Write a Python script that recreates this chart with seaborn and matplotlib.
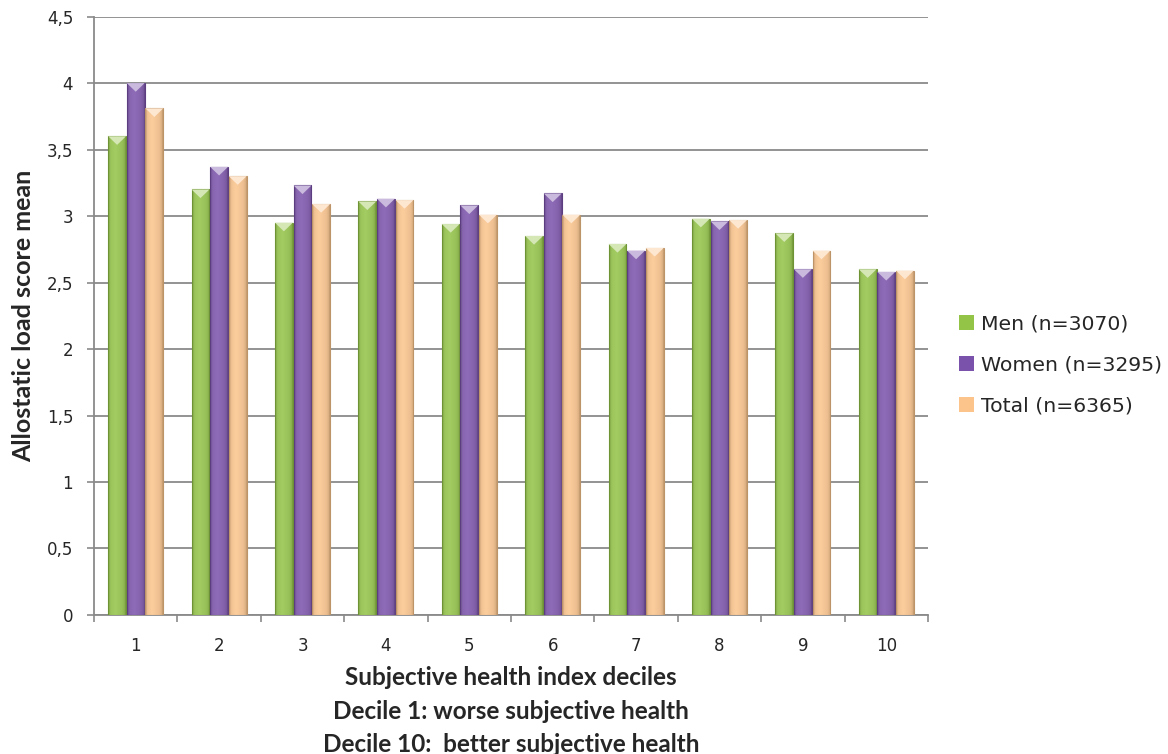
import numpy as np
import pandas as pd
import matplotlib
matplotlib.use("Agg")
import matplotlib.pyplot as plt
import matplotlib.colors as mcolors
from matplotlib.patches import Patch, Polygon
from matplotlib.ticker import FixedLocator, NullFormatter
import seaborn as sns

# Mean allostatic load score by subjective health index decile
deciles = ["1", "2", "3", "4", "5", "6", "7", "8", "9", "10"]
men = [3.60, 3.20, 2.95, 3.11, 2.94, 2.85, 2.79, 2.98, 2.87, 2.60]
women = [4.00, 3.37, 3.23, 3.13, 3.08, 3.17, 2.74, 2.96, 2.60, 2.58]
total = [3.81, 3.30, 3.09, 3.12, 3.01, 3.01, 2.76, 2.97, 2.74, 2.59]
groups = ["Men (n=3070)", "Women (n=3295)", "Total (n=6365)"]
colors = ["#93c447", "#7b52ab", "#fcc48b"]
ytick_values = [0, 0.5, 1, 1.5, 2, 2.5, 3, 3.5, 4, 4.5]
ytick_labels = ["0", "0,5", "1", "1,5", "2", "2,5", "3", "3,5", "4", "4,5"]

df = pd.DataFrame({
    "decile": deciles * 3,
    "group": [g for g in groups for _ in deciles],
    "value": men + women + total,
})

sns.set_theme(style="white")
plt.rcParams["font.family"] = ["DejaVu Sans"]

fig = plt.figure(figsize=(11.68, 7.54), dpi=100)
ax = fig.add_axes([0.0805, 0.1844, 0.714, 0.7936])

sns.barplot(data=df, x="decile", y="value", hue="group", order=deciles,
            hue_order=groups, palette=colors, saturation=1, width=0.67,
            gap=0.04, legend=False, ax=ax, zorder=3, edgecolor="none")

ax.set_ylim(0, 4.5)
ax.set_xlim(-0.5, len(deciles) - 0.5)

# cylinder-like horizontal shading, thin darker outline and a bevelled top
for patch in list(ax.patches):
    x0, y0 = patch.get_x(), patch.get_y()
    w, h = patch.get_width(), patch.get_height()
    base = np.array(mcolors.to_rgb(patch.get_facecolor()))
    dark = base * 0.72
    light = np.clip(base + (1 - base) * 0.15, 0, 1)
    t = np.linspace(0, 1, 64)
    prof = np.interp(t, [0, 0.06, 0.14, 0.4, 0.8, 0.94, 1],
                     [0.0, 0.55, 0.85, 1.0, 0.8, 0.55, 0.1])
    cols = np.array([dark + (light - dark) * p for p in prof])
    im = ax.imshow(cols[np.newaxis, :, :], extent=[x0, x0 + w, y0, y0 + h],
                   aspect="auto", zorder=3.5, interpolation="bilinear")
    im.set_clip_path(patch)
    outline = patch.__class__((x0, y0), w, h, facecolor="none",
                              edgecolor=base * 0.75, linewidth=0.8, zorder=3.6)
    ax.add_patch(outline)
    cap = 0.065
    tri = Polygon([[x0, y0 + h], [x0 + w, y0 + h], [x0 + w / 2, y0 + h - cap]],
                  closed=True, facecolor=np.clip(base + (1 - base) * 0.6, 0, 1),
                  edgecolor="none", zorder=3.7)
    ax.add_patch(tri)

ax.set_ylim(0, 4.5)
ax.set_xlim(-0.5, len(deciles) - 0.5)

# gridlines and axes
ax.set_yticks(ytick_values)
ax.set_yticklabels(ytick_labels, fontsize=12)
ax.yaxis.grid(True, color="#8a8a8a", linewidth=1.3, zorder=0)
ax.xaxis.grid(False)
ax.set_axisbelow(True)
for side in ["top", "right"]:
    ax.spines[side].set_visible(False)
for side in ["left", "bottom"]:
    ax.spines[side].set_color("#8a8a8a")
    ax.spines[side].set_linewidth(1.3)

ax.tick_params(axis="y", which="major", direction="out", length=5,
               color="#8a8a8a", width=1.2, pad=10, left=True)
ax.tick_params(axis="x", which="major", length=0, pad=16, labelsize=12)
ax.xaxis.set_minor_locator(FixedLocator(np.arange(-0.5, len(deciles), 1.0)))
ax.xaxis.set_minor_formatter(NullFormatter())
ax.tick_params(axis="x", which="minor", direction="out", length=5,
               color="#8a8a8a", width=1.2, bottom=True)

ax.set_ylabel("Allostatic load score mean", fontsize=18, fontweight="bold",
              family="Lato", labelpad=8)
ax.set_xlabel("Subjective health index deciles\nDecile 1: worse subjective health\nDecile 10:  better subjective health",
              fontsize=17.5, fontweight="bold", family="Lato", labelpad=8,
              linespacing=1.55)

handles = [Patch(facecolor=c, edgecolor="none") for c in colors]
fig.legend(handles, groups, loc="center left", bbox_to_anchor=(0.805, 0.516),
           frameon=False, fontsize=14.7, handlelength=0.75, handleheight=0.75,
           handletextpad=0.35, labelspacing=1.08)

fig.savefig("out.png", dpi=100)
